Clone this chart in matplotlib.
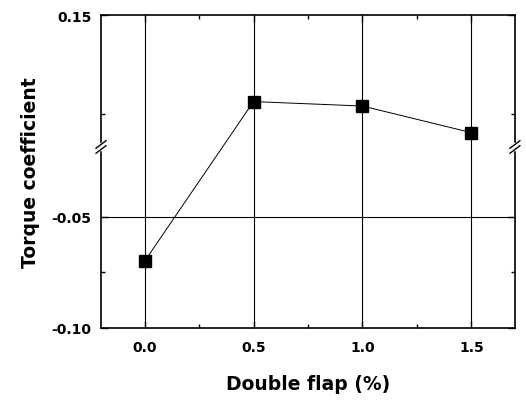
import numpy as np
import matplotlib as mpl
mpl.use('Agg')
import matplotlib.pyplot as plt

# data
flap = [0.0, 0.5, 1.0, 1.5]
torque = [-0.070, 0.111, 0.109, 0.097]

# broken y axis: values between these two are cut out
gap_lo = -0.0185
gap_hi = 0.0905
cut = gap_hi - gap_lo


def fwd(y):
    y = np.asarray(y, dtype=float)
    return np.where(y <= gap_lo, y, np.where(y >= gap_hi, y - cut, gap_lo))


def inv(y):
    y = np.asarray(y, dtype=float)
    return np.where(y <= gap_lo, y, y + cut)


plt.rcParams['font.family'] = ['DejaVu Sans']
plt.rcParams['font.weight'] = 'bold'

fig = plt.figure(figsize=(5.26, 4.02), dpi=100)
ax = fig.add_axes([0.192, 0.182, 0.787, 0.778])
ax.set_yscale('function', functions=(fwd, inv))
ax.set_xlim(-0.2, 1.7)
ax.set_ylim(-0.10, 0.15)

ax.set_xticks([0.0, 0.5, 1.0, 1.5], ['0.0', '0.5', '1.0', '1.5'])
ax.set_xticks([0.25, 0.75, 1.25], minor=True)
ax.set_yticks([-0.10, -0.05, 0.15], ['-0.10', '-0.05', '0.15'])
ax.set_yticks([-0.075, 0.1055], minor=True)
ax.tick_params(which='both', direction='in', top=True, right=True,
               labelsize=10, width=1)
ax.tick_params(which='major', length=5)
ax.tick_params(which='minor', length=3)
ax.tick_params(axis='x', pad=9)
ax.tick_params(axis='y', pad=7)
for s in ax.spines.values():
    s.set_linewidth(1.2)

# grid
for xv in flap:
    ax.axvline(xv, color='black', lw=0.8, zorder=1)
ax.axhline(-0.05, color='black', lw=0.8, zorder=1)

ax.plot(flap, torque, color='black', lw=0.7, marker='s', markersize=8,
        zorder=3)

# break marks on both sides
yb = 1 - 132 / 313
for xs in (0, 1):
    for dy in (-0.008, 0.008):
        ax.plot([xs - 0.012, xs + 0.012], [yb + dy - 0.012, yb + dy + 0.012],
                transform=ax.transAxes, color='black', lw=1.0,
                clip_on=False, zorder=5)
    ax.plot([xs, xs], [yb - 0.008, yb + 0.008], transform=ax.transAxes,
            color='white', lw=2.5, clip_on=False, zorder=4)

ax.set_xlabel('Double flap (%)', fontsize=13.5, fontweight='bold', labelpad=14)
ax.set_ylabel('Torque coefficient', fontsize=13.5, fontweight='bold', labelpad=8)

fig.savefig('out.png', dpi=100)
